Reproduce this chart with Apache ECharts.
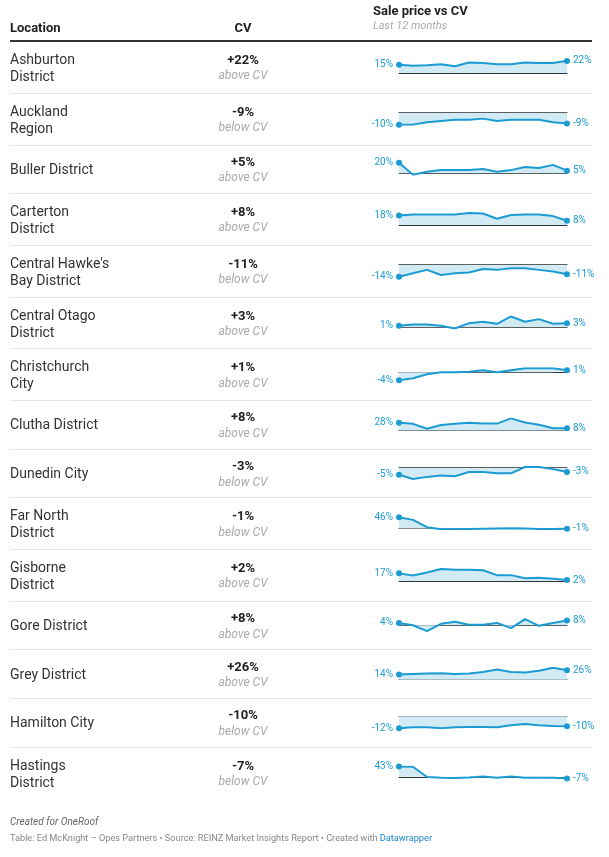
<!DOCTYPE html>
<html><head><meta charset="utf-8">
<script src="https://cdn.jsdelivr.net/npm/echarts@6/dist/echarts.min.js"></script>
<style>html,body{margin:0;padding:0;background:#fff}#c{width:609px;height:857px}</style>
</head><body><div id="c"></div>
<script>
// ---------- data ----------
const locations = [
  "Ashburton\nDistrict", "Auckland\nRegion", "Buller District", "Carterton\nDistrict",
  "Central Hawke's\nBay District", "Central Otago\nDistrict", "Christchurch\nCity",
  "Clutha District", "Dunedin City", "Far North\nDistrict", "Gisborne\nDistrict",
  "Gore District", "Grey District", "Hamilton City", "Hastings\nDistrict"
];
const cvValues = [22, -9, 5, 8, -11, 3, 1, 8, -3, -1, 2, 8, 26, -10, -7];
const monthLabels = ["m-12","m-11","m-10","m-9","m-8","m-7","m-6","m-5","m-4","m-3","m-2","m-1","m0"];

const ashburton        = [15, 13, 14, 16, 12, 19, 18, 16, 16, 19, 18, 18, 22];
const auckland         = [-10, -10, -8, -7, -6, -6, -5, -7, -6, -6, -6, -8, -9];
const buller           = [20, -3, 3, 6, 6, 6, 8, 3, 6, 12, 10, 16, 5];
const carterton        = [18, 20, 20, 20, 20, 23, 22, 12, 19, 20, 20, 17, 8];
const centralHawkesBay = [-14, -10, -6, -12, -10, -9, -5, -6, -4, -4, -6, -8, -11];
const centralOtago     = [1, 2, 2, 1, -1, 3, 4, 2.5, 8, 4, 6, 2.5, 3];
const christchurch     = [-4, -3, -1, 0, 0, 0.2, 1, 0, 1, 2, 2, 2, 1];
const clutha           = [28, 24, 6, 20, 24, 28, 25, 25, 44, 29, 21, 8, 8];
const dunedin          = [-5, -8, -6.5, -5.5, -6, -3, -3, -4, -4, 0.5, 0.5, -1, -3];
const farNorth         = [46, 35, 5, -3, -3, -2, -1, 0, 1, 0, -2, -2, -1];
const gisborne         = [17, 12, 19, 27, 25, 25, 24, 13, 13, 6, 7, 5, 2];
const gore             = [4, 0, -10, 2.5, 6, 1, 1, 4, -5, 10.5, -1, 4, 8];
const grey             = [14, 16, 17, 18, 15.5, 17, 21, 28, 21, 20, 24.5, 33, 26];
const hamilton         = [-12, -11, -11, -12, -11, -10.7, -10.7, -11, -9, -7.7, -9, -9.7, -10];
const hastings         = [43, 42, -1, -4, -5, -3, 1, -4, 1, -4, -4, -4, -7];

const sparkData = [ashburton, auckland, buller, carterton, centralHawkesBay, centralOtago,
  christchurch, clutha, dunedin, farNorth, gisborne, gore, grey, hamilton, hastings];

// ---------- build ----------
const FONT = 'Roboto, "Noto Sans", sans-serif';
const LINE = '#1c9bd2';
const AREA = '#d2eaf4';
const chart = echarts.init(document.getElementById('c'), null, {renderer: 'canvas'});

const rows = [];
let yPos = 41;
locations.forEach(n => {
  const h = n.includes('\n') ? 51.75 : 48.6;
  rows.push({top: yPos, h: h, center: yPos + h / 2});
  yPos += h;
});

const graphics = [];
function txt(x, y, text, font, fill, align, extra) {
  graphics.push({type: 'text', x: x, y: y, silent: true,
    style: Object.assign({text: text, font: font, fill: fill, align: align || 'left', verticalAlign: 'middle'}, extra || {})});
}
// header
txt(10, 28.5, 'Location', 'bold 13px ' + FONT, '#222');
txt(243, 28.5, 'CV', 'bold 13px ' + FONT, '#222', 'center');
txt(373, 12, 'Sale price vs CV', 'bold 13px ' + FONT, '#222');
txt(373, 26.5, 'Last 12 months', 'italic 11px ' + FONT, '#aaa');
graphics.push({type: 'line', silent: true, shape: {x1: 10, y1: 41, x2: 592, y2: 41}, style: {stroke: '#333', lineWidth: 2}});

const grids = [], xAxes = [], yAxes = [], series = [];
rows.forEach((r, i) => {
  // text columns
  const two = locations[i].includes('\n');
  txt(10, r.center + (two ? 2.2 : 1.5), locations[i], '14px ' + FONT, '#333', 'left', {lineHeight: 17});
  const v = cvValues[i];
  txt(243, r.center - 6.2, (v > 0 ? '+' : '') + v + '%', 'bold 13px ' + FONT, '#222', 'center');
  txt(243, r.center + 9.5, v > 0 ? 'above CV' : 'below CV', 'italic 12px ' + FONT, '#aaa', 'center');
  if (i < rows.length - 1) {
    const yy = Math.round(r.top + r.h) + 0.5;
    graphics.push({type: 'line', silent: true, shape: {x1: 10, y1: yy, x2: 592, y2: yy}, style: {stroke: '#e6e6e6', lineWidth: 1}});
  }
  // sparkline
  const d = sparkData[i];
  const last = d.length - 1;
  grids.push({left: 399, width: 168, top: r.center - 6, height: 12});
  xAxes.push({type: 'category', gridIndex: i, data: monthLabels, boundaryGap: false,
    axisLine: {show: true, onZero: true, lineStyle: {color: '#333', width: 1}},
    axisTick: {show: false}, axisLabel: {show: false}, splitLine: {show: false}});
  yAxes.push({type: 'value', gridIndex: i, show: false,
    min: e => Math.min(0, e.min), max: e => Math.max(0, e.max)});
  series.push({type: 'line', xAxisIndex: i, yAxisIndex: i, silent: true, animation: false,
    showAllSymbol: true, z: 3,
    lineStyle: {color: LINE, width: 2}, itemStyle: {color: LINE},
    areaStyle: {color: AREA, opacity: 1},
    data: d.map((val, j) => {
      const edge = (j === 0 || j === last);
      return {value: val, symbol: edge ? 'circle' : 'none', symbolSize: 6,
        label: {show: edge, position: j === 0 ? 'left' : 'right', distance: 3,
          formatter: val + '%', color: LINE, fontSize: 10, fontFamily: FONT}};
    })
  });
});

// footer
txt(10, 822, 'Created for OneRoof', 'italic 10px ' + FONT, '#666');
graphics.push({type: 'text', x: 10, y: 839, silent: true, style: {
  text: '{a|Table: Ed McKnight – Opes Partners • Source: REINZ Market Insights Report • Created with }{b|Datawrapper}',
  verticalAlign: 'middle', align: 'left',
  rich: {a: {fill: '#888', fontSize: 9.2, fontFamily: FONT}, b: {fill: '#1a8ad0', fontSize: 9.2, fontFamily: FONT}}
}});

chart.setOption({
  animation: false,
  grid: grids, xAxis: xAxes, yAxis: yAxes, series: series,
  graphic: {elements: graphics}
});
</script></body></html>
